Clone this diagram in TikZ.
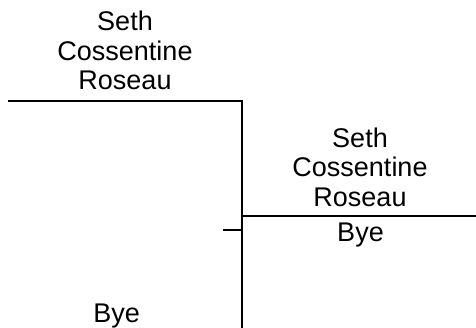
\documentclass[tikz,border=0pt]{standalone}
\usepackage{fontspec}
\setmainfont{Liberation Sans}
\begin{document}
\begin{tikzpicture}[x=1bp,y=-1bp,
  lbl/.style={inner sep=0pt,anchor=base,font=\fontsize{27bp}{29bp}\selectfont},
  bline/.style={line width=2bp,line cap=rect}]
\useasboundingbox (0,0) rectangle (476,327);
% coordinates of bracket
\coordinate (a1) at (8,100.5);
\coordinate (a2) at (241.7,100.5);
\coordinate (a3) at (241.7,330);
\coordinate (b1) at (241.7,215.5);
\coordinate (b2) at (478,215.5);
\coordinate (t1) at (223,230);
\coordinate (t2) at (241.7,230);
\draw[line width=2bp] (a1) -- (a2) -- (a3);
\draw[line width=2bp] (b1) -- (b2);
\draw[line width=2bp] (t1) -- (t2);
% top-left team
\node[lbl] (s1) at (125,30.7) {Seth};
\node[lbl] (c1) at (125,60) {Cossentine};
\node[lbl] (r1) at (125,89.3) {Roseau};
% bottom-left
\node[lbl] (bye1) at (116.7,322) {Bye};
% right
\node[lbl] (s2) at (360,147) {Seth};
\node[lbl] (c2) at (360,176.5) {Cossentine};
\node[lbl] (r2) at (360,206) {Roseau};
\node[lbl] (bye2) at (360.5,241.5) {Bye};
\end{tikzpicture}
\end{document}
